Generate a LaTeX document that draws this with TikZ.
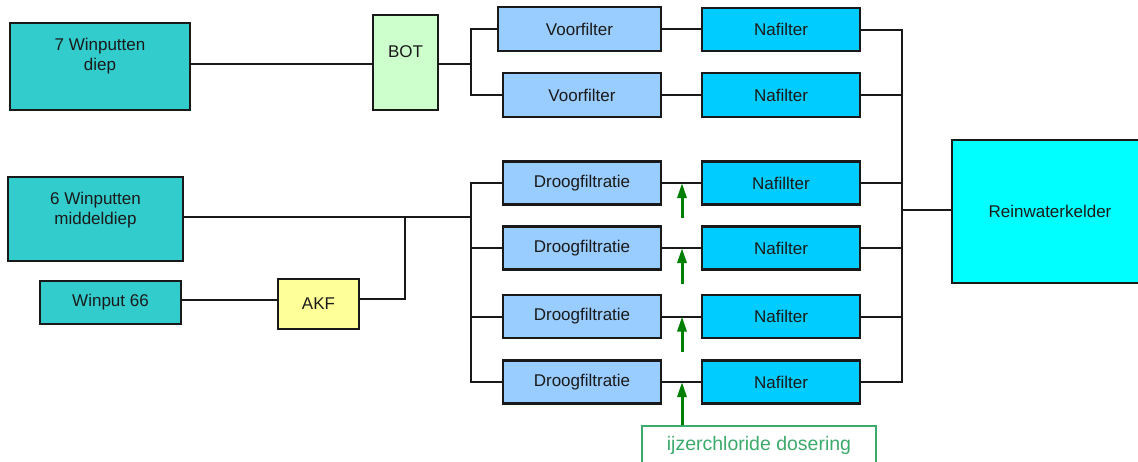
\documentclass[tikz,border=0pt]{standalone}
\usepackage{fontspec}
\setmainfont{Liberation Sans}
\usetikzlibrary{arrows.meta,calc}
\definecolor{teal1}{HTML}{33CCCC}
\definecolor{botgreen}{HTML}{CCFFCC}
\definecolor{lightblue}{HTML}{99CCFF}
\definecolor{nafblue}{HTML}{00CCFF}
\definecolor{cyan1}{HTML}{00FFFF}
\definecolor{akfyellow}{HTML}{FFFF99}
\definecolor{arrowgreen}{HTML}{008000}
\definecolor{dosgreen}{HTML}{3CAA6A}
\definecolor{txtgray}{HTML}{1A1A1A}
\tikzset{
  box/.style={draw=black!90, line width=2.4pt, inner sep=0pt, text=txtgray,
    font=\fontsize{17}{20}\selectfont, align=center},
  conn/.style={draw=black!90, line width=2pt},
  garrow/.style={draw=arrowgreen, line width=3pt, -{Triangle[length=15pt,width=9pt]}},
  dosbox/.style={draw=dosgreen, line width=2pt, inner sep=0pt, text=dosgreen,
    font=\fontsize{19.5}{22}\selectfont},
  lbl/.style={text=txtgray, font=\fontsize{17}{20}\selectfont, align=center, inner sep=0pt}
}
\begin{document}
\begin{tikzpicture}[x=1pt,y=-1pt]
\useasboundingbox (0,0) rectangle (1138,461);
\clip (0,0) rectangle (1138,461);
% sources
\node[box, fill=teal1, minimum width=180pt, minimum height=87pt] (w7) at (100,66.5) {};
\node[lbl] (w7t) at (100,56) {7 Winputten\\diep};
\node[box, fill=teal1, minimum width=175pt, minimum height=84pt] (w6) at (95.5,219) {};
\node[lbl] (w6t) at (95.5,210) {6 Winputten\\middeldiep};
\node[box, fill=teal1, minimum width=141pt, minimum height=43pt] (w66) at (110.5,302.5) {Winput 66};
% treatment
\node[box, fill=botgreen, minimum width=65pt, minimum height=95pt] (bot) at (405.5,62.5) {};
\node[lbl] (bott) at (405.5,52) {BOT};
\node[box, fill=akfyellow, minimum width=81pt, minimum height=50pt] (akf) at (318.5,304) {AKF};
\node[box, fill=lightblue, minimum width=163pt, minimum height=44pt] (vf1) at (579.5,29) {Voorfilter};
\node[box, fill=lightblue, minimum width=158pt, minimum height=44pt] (vf2) at (582,95) {Voorfilter};
\node[box, fill=nafblue, minimum width=158pt, minimum height=43pt] (nf1) at (781,29.5) {Nafilter};
\node[box, fill=nafblue, minimum width=158pt, minimum height=44pt] (nf2) at (781,95) {Nafilter};
\node[box, fill=lightblue, minimum width=158pt, minimum height=43pt] (dr1) at (582,183) {Droogfiltratie};
\node[box, fill=lightblue, minimum width=158pt, minimum height=43pt] (dr2) at (582,248) {Droogfiltratie};
\node[box, fill=lightblue, minimum width=158pt, minimum height=43pt] (dr3) at (582,316.5) {Droogfiltratie};
\node[box, fill=lightblue, minimum width=158pt, minimum height=43pt] (dr4) at (582,382) {Droogfiltratie};
\node[box, fill=nafblue, minimum width=158pt, minimum height=43pt] (nd1) at (781,183) {Nafillter};
\node[box, fill=nafblue, minimum width=158pt, minimum height=43pt] (nd2) at (781,248) {Nafilter};
\node[box, fill=nafblue, minimum width=158pt, minimum height=43pt] (nd3) at (781,316.5) {Nafilter};
\node[box, fill=nafblue, minimum width=158pt, minimum height=43pt] (nd4) at (781,382) {Nafilter};
\node[box, fill=cyan1, minimum width=196pt, minimum height=143pt] (rw) at (1050,211.5) {Reinwaterkelder};
\node[dosbox, minimum width=234pt, minimum height=44pt, anchor=north] (dos) at (759,425) {};
\node[lbl, text=dosgreen, font=\fontsize{19.5}{22}\selectfont] (dost) at (759,445) {ijzerchloride dosering};
% junction coordinates
\coordinate (s1) at (471,64);
\coordinate (lb) at (471,217);
\coordinate (j) at (405,217);
\coordinate (rb) at (901.5,210);
% connectors
\draw[conn] (w7.east |- s1) -- (bot.west |- s1);
\draw[conn] (bot.east |- s1) -- (s1);
\draw[conn] (vf1.west) -| (s1);
\draw[conn] (vf2.west) -| (s1);
\draw[conn] (vf1.east) -- (nf1.west |- vf1.east);
\draw[conn] (vf2.east) -- (nf2.west);
\draw[conn] (w6.east |- lb) -- (lb);
\draw[conn] (w66.east |- 0,300) -- (akf.west |- 0,300);
\draw[conn] (akf.east |- 0,299) -| (j);
\foreach \d/\n in {dr1/nd1,dr2/nd2,dr3/nd3,dr4/nd4}{
  \draw[conn] (\d.west) -| (lb);
  \draw[conn] (\d.east) -- (\n.west);
  \draw[conn] (\n.east) -| (rb);
}
\draw[conn] (nf1.east) -| (rb);
\draw[conn] (nf2.east) -| (rb);
\draw[conn] (rb) -- (rw.west |- rb);
% dosing arrows
\coordinate (a1) at (682,218);
\coordinate (a2) at (682,284);
\coordinate (a3) at (682,352);
\coordinate (a4) at (682,425);
\draw[garrow] (a1) -- (a1 |- dr1.east);
\draw[garrow] (a2) -- (a2 |- dr2.east);
\draw[garrow] (a3) -- (a3 |- dr3.east);
\draw[garrow] (a4) -- (a4 |- dr4.east);
\end{tikzpicture}
\end{document}
